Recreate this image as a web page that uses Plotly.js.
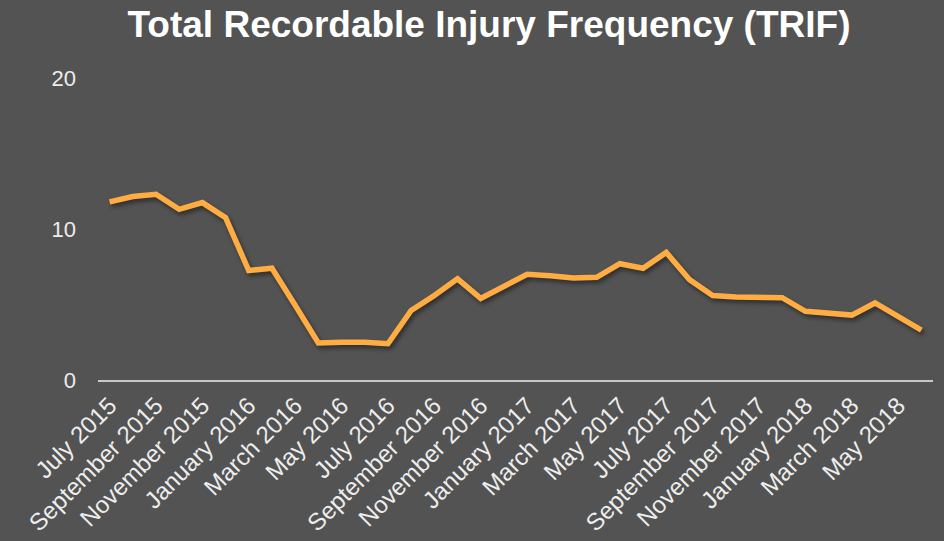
<!DOCTYPE html>
<html>
<head>
<meta charset="utf-8">
<script src="https://cdn.plot.ly/plotly-3.0.1.min.js"></script>
<style>
  html, body { margin: 0; padding: 0; background: #535353; }
  #chart { width: 944px; height: 541px; }
</style>
</head>
<body>
<div id="chart"></div>
<script>
// Monthly TRIF, July 2015 – June 2018
const months = [
  "July 2015", "August 2015", "September 2015", "October 2015", "November 2015", "December 2015",
  "January 2016", "February 2016", "March 2016", "April 2016", "May 2016", "June 2016",
  "July 2016", "August 2016", "September 2016", "October 2016", "November 2016", "December 2016",
  "January 2017", "February 2017", "March 2017", "April 2017", "May 2017", "June 2017",
  "July 2017", "August 2017", "September 2017", "October 2017", "November 2017", "December 2017",
  "January 2018", "February 2018", "March 2018", "April 2018", "May 2018", "June 2018"
];

const trif = [
  11.8, 12.15, 12.3, 11.3, 11.75, 10.75,
  7.25, 7.4, 4.95, 2.45, 2.5, 2.5,
  2.4, 4.6, 5.6, 6.7, 5.4, 6.2,
  7.0, 6.9, 6.75, 6.8, 7.7, 7.4,
  8.45, 6.65, 5.6, 5.5, 5.45, 5.45,
  4.55, 4.45, 4.3, 5.1, 4.2, 3.3
];

const yTicks = [0, 10, 20];

// Label every other month on the category axis
const xTicks = months.filter((_, i) => i % 2 === 0);

const bg = "#535353";

const trace = {
  x: months,
  y: trif,
  type: "scatter",
  mode: "lines",
  line: { color: "#FFAD42", width: 5.5 },
  hoverinfo: "x+y"
};

const layout = {
  width: 944,
  height: 541,
  paper_bgcolor: bg,
  plot_bgcolor: bg,
  margin: { l: 98, r: 11, t: 78, b: 161 },
  showlegend: false,
  title: {
    text: "<b>Total Recordable Injury Frequency (TRIF)</b>",
    font: { family: "Liberation Sans, Arial, sans-serif", size: 37, color: "#FFFFFF" },
    xref: "container",
    yref: "container",
    x: 0.518,
    xanchor: "center",
    y: 0.955,
    yanchor: "middle"
  },
  xaxis: {
    type: "category",
    range: [-0.5, 35.5],
    tickmode: "array",
    tickvals: xTicks,
    ticktext: xTicks,
    tickangle: -45,
    showgrid: false,
    zeroline: false,
    showline: true,
    linecolor: "#C8C8C8",
    linewidth: 2,
    ticks: "",
    tickfont: { family: "Liberation Sans, Arial, sans-serif", size: 24, color: "#EDEDED" }
  },
  yaxis: {
    range: [0, 20],
    tickmode: "array",
    tickvals: yTicks,
    ticktext: yTicks.map(String),
    showgrid: false,
    zeroline: false,
    showline: false,
    ticks: "",
    ticklabelstandoff: 21,
    tickfont: { family: "Liberation Sans, Arial, sans-serif", size: 22, color: "#EDEDED" }
  }
};

Plotly.newPlot("chart", [trace], layout, { displayModeBar: false, staticPlot: true }).then(() => {
  // soft drop shadow under the line
  document.querySelectorAll("#chart .scatterlayer .js-line").forEach(p => {
    p.style.filter = "drop-shadow(2px 3px 2px rgba(0,0,0,0.45))";
  });
});
</script>
</body>
</html>
